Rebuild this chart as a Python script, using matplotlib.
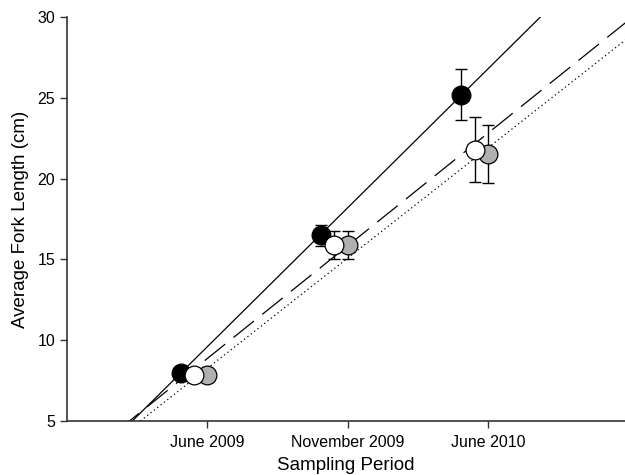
import matplotlib
matplotlib.use("Agg")
import matplotlib.pyplot as plt
import numpy as np

plt.rcParams['font.family'] = ['Liberation Sans', 'DejaVu Sans']

periods = ["June 2009", "November 2009", "June 2010"]
x_pos = np.array([1, 2, 3])

# mean fork length (cm) and error for three groups
black_mean = [8.0, 16.5, 25.2]
black_err = [0.2, 0.65, 1.6]
white_mean = [7.85, 15.9, 21.8]
white_err = [0.2, 0.85, 2.0]
gray_mean = [7.85, 15.9, 21.5]
gray_err = [0.2, 0.85, 1.8]

offsets = [-0.19, -0.095, 0.0]

fig = plt.figure(figsize=(6.25, 4.75), dpi=100)
ax = fig.add_axes([0.1072, 0.1137, 0.8928, 0.8505])

# (mean, err, face colour, x offset, dash pattern, zorder)
groups = [
    (black_mean, black_err, 'black', offsets[0], None, 3),
    (gray_mean, gray_err, '#b0b0b0', offsets[2], (1, 2.4), 4),
    (white_mean, white_err, 'white', offsets[1], (21, 8.5), 5),
]

xx = np.linspace(-1, 5, 50)
for mean, err, col, off, dash, z in groups:
    xs = x_pos + off
    k, b = np.polyfit(xs, mean, 1)
    line, = ax.plot(xx, k * xx + b, color='black', lw=0.9, zorder=1)
    if dash is not None:
        line.set_dashes(dash)
    ax.errorbar(xs, mean, yerr=err, fmt='none', ecolor='black',
                elinewidth=1, capsize=4.5, capthick=1, zorder=2)
    ax.plot(xs, mean, 'o', ms=13.5, mfc=col, mec='black', mew=0.9,
            zorder=z, clip_on=False)

ax.set_xlim(0, 3.975)
ax.set_ylim(5, 30)
ax.set_xticks(x_pos)
ax.set_xticklabels(periods, fontsize=11.5)
ax.set_yticks([5, 10, 15, 20, 25, 30])
ax.tick_params(axis='y', labelsize=11.5, length=5, width=1, color='#333333')
ax.tick_params(axis='x', length=5, width=1, color='#333333', pad=5)
ax.spines['top'].set_visible(False)
ax.spines['right'].set_visible(False)
for s in ['left', 'bottom']:
    ax.spines[s].set_color('#333333')
    ax.spines[s].set_linewidth(1.2)

ax.set_xlabel("Sampling Period", fontsize=13.5, labelpad=5)
ax.set_ylabel("Average Fork Length (cm)", fontsize=13.5, labelpad=6)

fig.savefig("out.png", dpi=100)
